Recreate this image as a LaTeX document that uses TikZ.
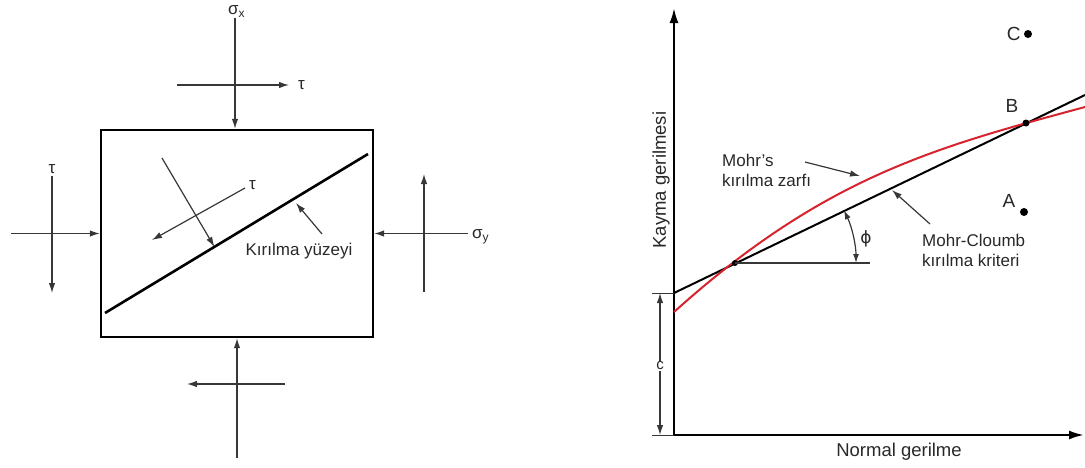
\documentclass[tikz,border=0pt]{standalone}
\usepackage{fontspec}
\setmainfont{Liberation Sans}
\newfontfamily\greekfont{DejaVu Sans}
\usetikzlibrary{
    arrows.meta,
    positioning,
    calc
}
\definecolor{inkgray}{RGB}{40,40,40}
\definecolor{linegray}{RGB}{55,55,55}
\definecolor{mohrred}{RGB}{215,35,45}
\newcommand{\lblfont}{\fontsize{17}{20}\selectfont}
\newcommand{\axisfont}{\fontsize{18.5}{21}\selectfont}
\newcommand{\subx}[1]{\raisebox{-3pt}{\fontsize{12}{12}\selectfont #1}}
\tikzset{
    % Specimen
    specimen/.style={
        rectangle,
        draw=black,
        line width=2.4pt,
        minimum width=272pt,
        minimum height=207pt,
        inner sep=0pt
    },
    fracture/.style={
        line width=2.6pt,
        draw=black
    },
    % Arrows
    force/.style={
        -{Latex[length=10pt,width=6.5pt]},
        line width=1.2pt,
        draw=linegray
    },
    plainline/.style={
        line width=1.2pt,
        draw=linegray
    },
    axis/.style={
        -{Latex[length=15pt,width=9pt]},
        line width=2.2pt,
        draw=black
    },
    angarrow/.style={
        {Latex[length=9pt,width=6pt]}-{Latex[length=9pt,width=6pt]},
        line width=1.2pt,
        draw=linegray
    },
    % Curves
    criterion/.style={
        line width=2pt,
        draw=black
    },
    envelope/.style={
        line width=2pt,
        draw=mohrred
    },
    % Labels
    lbl/.style={
        font=\lblfont,
        text=inkgray,
        inner sep=1pt
    },
    axislbl/.style={
        font=\axisfont,
        text=inkgray,
        inner sep=1pt
    },
    ptlbl/.style={
        font=\fontsize{19}{21}\selectfont,
        text=inkgray,
        inner sep=1pt
    },
    dot/.style={
        circle,
        fill=black,
        inner sep=0pt,
        minimum size=8pt
    }
}

\begin{document}
\begin{tikzpicture}[x=1pt, y=-1pt]

    \useasboundingbox (0,0) rectangle (1085,467);

    % Specimen with the fracture plane
    \node[specimen] (block) at (237,233.5) {};
    \coordinate (fracA) at (105,313);
    \coordinate (fracB) at (368,154);
    \draw[fracture] (fracA) -- (fracB);

    % Top loads
    \coordinate (sxtail) at (235,18);
    \node[lbl, above right=-1pt and -8pt of sxtail] (sxlbl) {σ\subx{x}};
    \draw[force] (sxtail) -- (sxtail |- block.north);
    \coordinate (ttoptail) at (177,85);
    \coordinate (ttophead) at (289,85);
    \draw[force] (ttoptail) -- (ttophead);
    \node[lbl, right=8pt of ttophead] (ttoplbl) {τ};

    % Left loads
    \coordinate (lefttail) at (11,233.5);
    \draw[force] (lefttail) -- (block.west);
    \coordinate (tlefttail) at (52,176);
    \coordinate (tlefthead) at (52,293);
    \draw[force] (tlefttail) -- (tlefthead);
    \node[lbl, above=1pt of tlefttail] (tleftlbl) {τ};

    % Right loads
    \coordinate (righttail) at (468,233.5);
    \draw[force] (righttail) -- (block.east);
    \node[lbl, right=3pt of righttail, yshift=-3pt] (sylbl) {σ\subx{y}};
    \coordinate (trighttail) at (424,292);
    \coordinate (trighthead) at (424,174);
    \draw[force] (trighttail) -- (trighthead);

    % Bottom loads
    \coordinate (bottail) at (237,458);
    \draw[force] (bottail) -- (block.south);
    \coordinate (tbottail) at (285,384);
    \coordinate (tbothead) at (187,384);
    \draw[force] (tbottail) -- (tbothead);

    % Stresses on the plane
    \coordinate (ntail) at (162,158);
    \coordinate (nhead) at ($(fracA)!0.416!(fracB)$);
    \draw[force] (ntail) -- (nhead);
    \coordinate (tptail) at (245,188);
    \coordinate (tphead) at (152,240);
    \draw[force] (tptail) -- (tphead);
    \node[lbl, right=3pt of tptail, yshift=3pt] (tplbl) {τ};

    % Fracture plane label
    \node[lbl] (fraclbl) at (299,251) {Kırılma yüzeyi};
    \coordinate (fractail) at (322,234);
    \coordinate (frachead) at (296,203);
    \draw[force] (fractail) -- (frachead);

    % Axes
    \coordinate (origin) at (674,435);
    \coordinate (ytip) at (674,8);
    \coordinate (xtip) at (1084,435);
    \draw[axis] (origin) -- (ytip);
    \draw[axis] (origin) -- (xtip);
    \node[axislbl, rotate=90] (ylbl) at (661,180) {Kayma gerilmesi};
    \node[axislbl] (xlbl) at (899,452) {Normal gerilme};

    % Cohesion c
    \coordinate (cint) at (674,293);
    \coordinate (ctop) at (652,293);
    \coordinate (cbot) at (652,435);
    \draw[plainline, line width=0.8pt] (ctop) -- (cint);
    \draw[plainline, line width=0.8pt] (cbot) -- (origin);
    \node[lbl, font=\fontsize{15}{17}\selectfont] (clbl) at (660,366) {c};
    \draw[force] (clbl.north) -- (clbl.north |- cint);
    \draw[force] (clbl.south) -- (clbl.south |- origin);

    % Mohr-Coulomb line and Mohr envelope
    \coordinate (mcend) at (1085,95);
    \draw[criterion] (cint) -- (mcend);
    \coordinate (envstart) at (674,312);
    \coordinate (envend) at (1085,107);
    \draw[envelope] (envstart) .. controls (824,177) and (935,147.5) .. (envend);

    % Friction angle
    \node[dot, minimum size=6pt] (pcross) at (735,263) {};
    \coordinate (hend) at (870,263);
    \draw[plainline] (pcross.center) -- (hend);
    \coordinate (arcstart) at ($(pcross.center)+(121,0)$);
    \draw[angarrow] (arcstart) arc[start angle=0, end angle=25.8, radius=121pt];
    \node[lbl] (philbl) at (866,239) {\greekfont ϕ};

    % Points
    \node[dot, minimum size=7pt] (ptB) at (1026,123) {};
    \node[ptlbl] (lblB) at (1012,106) {B};
    \node[dot] (ptC) at (1028,34) {};
    \node[ptlbl, left=2pt of ptC] (lblC) {C};
    \node[dot] (ptA) at (1024,212) {};
    \node[ptlbl] (lblA) at (1009,201) {A};

    % Curve labels
    \node[lbl, anchor=west, align=left] (envlbl) at (721,170) {Mohr's\\kırılma zarfı};
    \coordinate (envtail) at (805,162);
    \coordinate (envhead) at (860,176);
    \draw[force] (envtail) -- (envhead);
    \node[lbl, anchor=west, align=left] (mclbl) at (921,250) {Mohr-Cloumb\\kırılma kriteri};
    \coordinate (mctail) at (930,224);
    \coordinate (mchead) at (892,190);
    \draw[force] (mctail) -- (mchead);

\end{tikzpicture}
\end{document}
